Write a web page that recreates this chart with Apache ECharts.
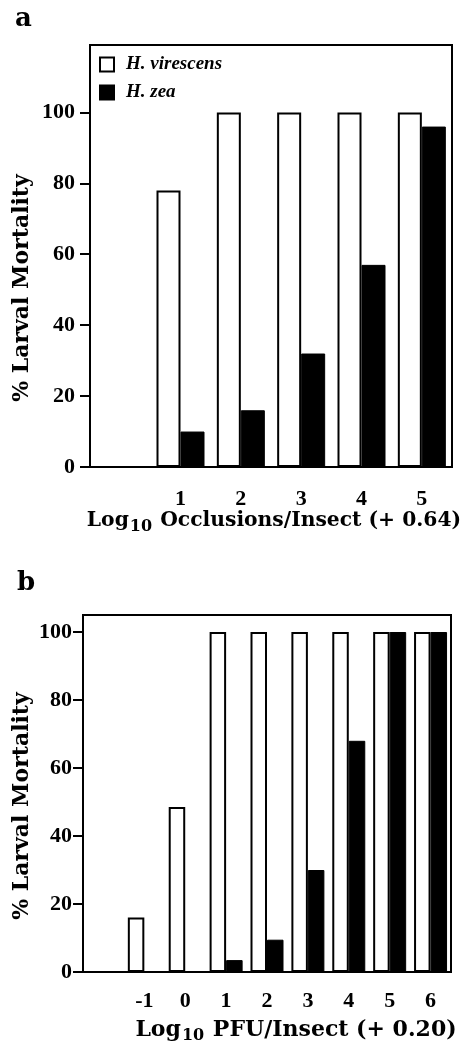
<!DOCTYPE html>
<html>
<head>
<meta charset="utf-8">
<script src="https://cdn.jsdelivr.net/npm/echarts@6/dist/echarts.min.js"></script>
<style>
html, body { margin: 0; padding: 0; background: #fff; }
#chart { width: 463px; height: 1049px; }
</style>
</head>
<body>
<div id="chart"></div>
<script>
// panel a: log10 occlusions per insect
const dosesA = ['', '1', '2', '3', '4', '5'];
const virescensA = [null, 78, 100, 100, 100, 100];
const zeaA = [null, 10, 16, 32, 57, 96];
// panel b: log10 PFU per insect
const dosesB = ['', '-1', '0', '1', '2', '3', '4', '5', '6'];
const virescensB = [null, 16, 48.5, 100, 100, 100, 100, 100, 100];
const zeaB = [null, 0, 0, 3.5, 9.5, 30, 68, 100, 100];
const yTicks = [0, 20, 40, 60, 80, 100];

const FONT = '"DejaVu Serif", "Liberation Serif", serif';
const TIMES = '"Liberation Serif", serif';
const black = '#000';

function xAxisOf(gridIndex, data, margin) {
	return {
		type: 'category',
		gridIndex: gridIndex,
		data: data,
		axisLine: { lineStyle: { color: black, width: 2 } },
		axisTick: {
			alignWithLabel: true,
			length: 11,
			interval: function (i) { return i > 0; },
			lineStyle: { color: black, width: 2 },
		},
		axisLabel: {
			interval: 0,
			margin: margin,
			color: black,
			fontFamily: TIMES,
			fontWeight: 'bold',
			fontSize: 22,
		},
	};
}

function yAxisOf(gridIndex, max, margin) {
	return {
		type: 'value',
		gridIndex: gridIndex,
		min: 0,
		max: max,
		interval: 20,
		splitLine: { show: false },
		axisLine: { show: true, lineStyle: { color: black, width: 2 } },
		axisTick: { show: true, length: 10, customValues: yTicks, lineStyle: { color: black, width: 2 } },
		axisLabel: {
			customValues: yTicks,
			margin: margin,
			color: black,
			fontFamily: TIMES,
			fontWeight: 'bold',
			fontSize: 22,
			formatter: function (v) { return v <= 100 ? String(v) : ''; },
		},
	};
}

function titleRich(x, y, size, rest) {
	return {
		type: 'text',
		x: x,
		y: y,
		style: {
			text: '{m|Log}{s|10}{m|' + rest + '}',
			align: 'center',
			verticalAlign: 'middle',
			rich: {
				m: { fontFamily: FONT, fontWeight: 'bold', fontSize: size, fill: black },
				s: { fontFamily: FONT, fontWeight: 'bold', fontSize: 16, fill: black, padding: [12, 1, 0, 1] },
			},
		},
	};
}

function yTitle(y) {
	return {
		type: 'text',
		x: 22,
		y: y,
		rotation: Math.PI / 2,
		style: {
			text: '% Larval Mortality',
			align: 'center',
			verticalAlign: 'middle',
			font: 'bold 22px ' + FONT,
			fill: black,
		},
	};
}

function panelLetter(text, x, y) {
	return {
		type: 'text',
		x: x,
		y: y,
		style: { text: text, verticalAlign: 'middle', font: 'bold 26px ' + FONT, fill: black },
	};
}

const whiteBar = { color: '#fff', borderColor: black, borderWidth: 2 };
const blackBar = { color: black, borderColor: black, borderWidth: 1 };

const chart = echarts.init(document.getElementById('chart'));
const option = {
	animation: false,
	backgroundColor: '#fff',
	grid: [
		{ left: 90, top: 45, width: 362, height: 422, show: true, borderColor: black, borderWidth: 2 },
		{ left: 83, top: 615, width: 368, height: 357, show: true, borderColor: black, borderWidth: 2 },
	],
	legend: {
		data: ['H. virescens', 'H. zea'],
		orient: 'vertical',
		left: 99,
		top: 55,
		padding: 0,
		itemWidth: 14,
		itemHeight: 14,
		itemGap: 9,
		icon: 'rect',
		selectedMode: false,
		textStyle: {
			color: black,
			fontFamily: TIMES,
			fontWeight: 'bold',
			fontStyle: 'italic',
			fontSize: 19,
			padding: [0, 0, 0, 7],
		},
	},
	xAxis: [xAxisOf(0, dosesA, 21), xAxisOf(1, dosesB, 18)],
	yAxis: [yAxisOf(0, 119, 15), yAxisOf(1, 105, 11)],
	series: [
		{ name: 'H. virescens', type: 'bar', xAxisIndex: 0, yAxisIndex: 0, data: virescensA, barWidth: 24, barGap: '0%', itemStyle: whiteBar },
		{ name: 'H. zea', type: 'bar', xAxisIndex: 0, yAxisIndex: 0, data: zeaA, barWidth: 24, barGap: '0%', itemStyle: blackBar },
		{ name: 'H. virescens', type: 'bar', xAxisIndex: 1, yAxisIndex: 1, data: virescensB, barWidth: 16.5, barGap: '0%', itemStyle: whiteBar },
		{ name: 'H. zea', type: 'bar', xAxisIndex: 1, yAxisIndex: 1, data: zeaB, barWidth: 16.5, barGap: '0%', itemStyle: blackBar },
	],
	graphic: [
		panelLetter('a', 15, 19),
		panelLetter('b', 17, 583),
		yTitle(288),
		yTitle(806),
		titleRich(274, 521, 20.3, ' Occlusions/Insect (+ 0.64)'),
		titleRich(296, 1030, 22, ' PFU/Insect (+ 0.20)'),
	],
};
chart.setOption(option);
</script>
</body>
</html>
